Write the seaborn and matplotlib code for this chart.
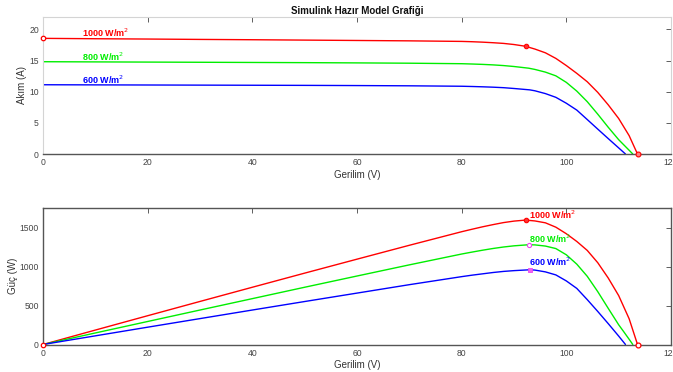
import numpy as np
import pandas as pd
import matplotlib
matplotlib.use("Agg")
import matplotlib.pyplot as plt
import seaborn as sns

# ---- data ----
V_1000 = [0, 10, 20, 30, 40, 50, 60, 70, 80, 82, 84, 86, 88, 90, 92.2, 94, 96, 98, 100, 102, 104, 106, 108, 110, 112, 113, 113.6]
I_1000 = [18.57, 18.51, 18.46, 18.40, 18.35, 18.29, 18.23, 18.17, 18.08, 18.03, 17.96, 17.87, 17.76, 17.58, 17.30, 16.85, 16.25, 15.35, 14.2, 12.95, 11.6, 9.9, 7.9, 5.7, 2.95, 1.1, 0]
P_1000 = [0, 185, 369, 552, 734, 915, 1094, 1272, 1446, 1478, 1509, 1537, 1563, 1582, 1595, 1584, 1560, 1504, 1420, 1321, 1206, 1049, 853, 627, 330, 124, 0]

V_800 = [0, 10, 20, 30, 40, 50, 60, 70, 80, 82, 84, 86, 88, 90, 92.8, 94, 96, 98, 100, 102, 104, 106, 108, 110, 111, 112, 112.7]
I_800 = [14.82, 14.79, 14.76, 14.73, 14.70, 14.67, 14.63, 14.58, 14.50, 14.45, 14.39, 14.31, 14.20, 14.05, 13.78, 13.58, 13.15, 12.55, 11.5, 10.1, 8.4, 6.4, 4.3, 2.3, 1.45, 0.6, 0]
P_800 = [0, 148, 295, 442, 588, 734, 878, 1021, 1160, 1185, 1209, 1231, 1250, 1265, 1279, 1277, 1262, 1230, 1150, 1030, 874, 678, 464, 253, 161, 67, 0]

V_600 = [0, 10, 20, 30, 40, 50, 60, 70, 80, 82, 84, 86, 88, 90, 93.0, 94, 96, 98, 100, 102, 104, 106, 108, 110, 111.3]
I_600 = [11.12, 11.10, 11.08, 11.06, 11.04, 11.02, 10.99, 10.95, 10.88, 10.84, 10.79, 10.73, 10.65, 10.52, 10.30, 10.15, 9.70, 9.10, 8.15, 7.05, 5.53, 4.0, 2.48, 0.98, 0]
P_600 = [0, 111, 222, 332, 442, 551, 659, 767, 870, 889, 906, 923, 937, 947, 958, 954, 931, 892, 815, 719, 575, 424, 268, 108, 0]

labels = ["1000 W/m$^2$", "800 W/m$^2$", "600 W/m$^2$"]
colors = ["#ff0000", "#00ee00", "#0000ff"]
mpp_idx = [14, 14, 14]

title = "Simulink Hazır Model Grafiği"
xlabel = "Gerilim (V)"
ylabel_top = "Akım (A)"
ylabel_bot = "Güç (W)"
xticks = [0, 20, 40, 60, 80, 100, 120]
yticks_top = [0, 5, 10, 15, 20]
yticks_bot = [0, 500, 1000, 1500]

sns.set_style("white")
plt.rcParams['font.family'] = ['Liberation Sans', 'DejaVu Sans']

fig = plt.figure(figsize=(6.73, 3.72), dpi=100)
ax1 = fig.add_axes([43/673, 1-154/372, (671-43)/673, (154-17)/372])
ax2 = fig.add_axes([43/673, 1-344.5/372, (671-43)/673, (344.5-208)/372])

Vs = [V_1000, V_800, V_600]
Is = [I_1000, I_800, I_600]
Ps = [P_1000, P_800, P_600]

tick_col = "#444444"
for ax in (ax1, ax2):
    ax.set_xlim(0, 120)
    ax.set_xticks(xticks)
    ax.tick_params(direction='in', length=3.5, width=0.6, colors=tick_col,
                   labelsize=6.2, top=True, right=True, pad=3)
    ax.set_xlabel(xlabel, fontsize=7, color="#333333", labelpad=2)

for V, I, P, c in zip(Vs, Is, Ps, colors):
    df = pd.DataFrame({"V": V, "I": I, "P": P})
    sns.lineplot(data=df, x="V", y="I", color=c, lw=1.0, ax=ax1, sort=False, estimator=None)
    sns.lineplot(data=df, x="V", y="P", color=c, lw=1.0, ax=ax2, sort=False, estimator=None)

ax1.set_ylim(0, 22)
ax1.set_yticks(yticks_top)
ax1.set_ylabel(ylabel_top, fontsize=7, color="#333333", labelpad=1.5)
ax2.set_ylim(0, 1750)
ax2.set_yticks(yticks_bot)
ax2.set_ylabel(ylabel_bot, fontsize=7, color="#333333", labelpad=1)

# markers top
ax1.plot(V_1000[0], I_1000[0], 'o', ms=3.2, mfc='white', mec='#ff0000', mew=0.9, clip_on=False, zorder=5)
ax1.plot(V_1000[mpp_idx[0]], I_1000[mpp_idx[0]], 'o', ms=3.2, mfc='#ff3333', mec='#ff0000', mew=0.8, zorder=5)
ax1.plot(V_1000[-1], I_1000[-1], 'o', ms=3.5, mfc='#ff8080', mec='#ff0000', mew=0.8, clip_on=False, zorder=5)

# markers bottom
ax2.plot(V_1000[0], P_1000[0], 'o', ms=3.2, mfc='white', mec='#ff0000', mew=0.9, clip_on=False, zorder=5)
ax2.plot(V_1000[mpp_idx[0]], P_1000[mpp_idx[0]], 'o', ms=3.2, mfc='#ff3333', mec='#ff0000', mew=0.8, zorder=5)
ax2.plot(V_800[mpp_idx[1]], P_800[mpp_idx[1]], 'o', ms=3.0, mfc='white', mec='#ee44ee', mew=0.8, zorder=5)
ax2.plot(V_600[mpp_idx[2]], P_600[mpp_idx[2]], 's', ms=2.5, mfc='#ee66ee', mec='#ee44ee', mew=0.6, zorder=5)
ax2.plot(V_1000[-1], P_1000[-1], 'o', ms=3.5, mfc='white', mec='#ff0000', mew=0.9, clip_on=False, zorder=5)

# labels
top_lab_y = [19.4, 15.6, 11.9]
for lab, c, y in zip(labels, colors, top_lab_y):
    ax1.text(7.5, y, lab, color=c, fontsize=6.5, fontweight='bold', va='center', ha='left')
bot_lab_y = [1663, 1360, 1065]
for lab, c, y in zip(labels, colors, bot_lab_y):
    ax2.text(92.8, y, lab, color=c, fontsize=6.5, fontweight='bold', va='center', ha='left')

ax1.set_title(title, fontsize=7, fontweight='bold', color='#111111', pad=2.5)

# spines
for s in ("left", "top", "right"):
    ax1.spines[s].set_color("#d4d4d4")
    ax1.spines[s].set_linewidth(0.8)
ax1.spines["bottom"].set_color("#555555")
ax1.spines["bottom"].set_linewidth(1.0)
for s in ax2.spines.values():
    s.set_color("#555555")
    s.set_linewidth(1.0)

fig.savefig("out.png", dpi=100)
